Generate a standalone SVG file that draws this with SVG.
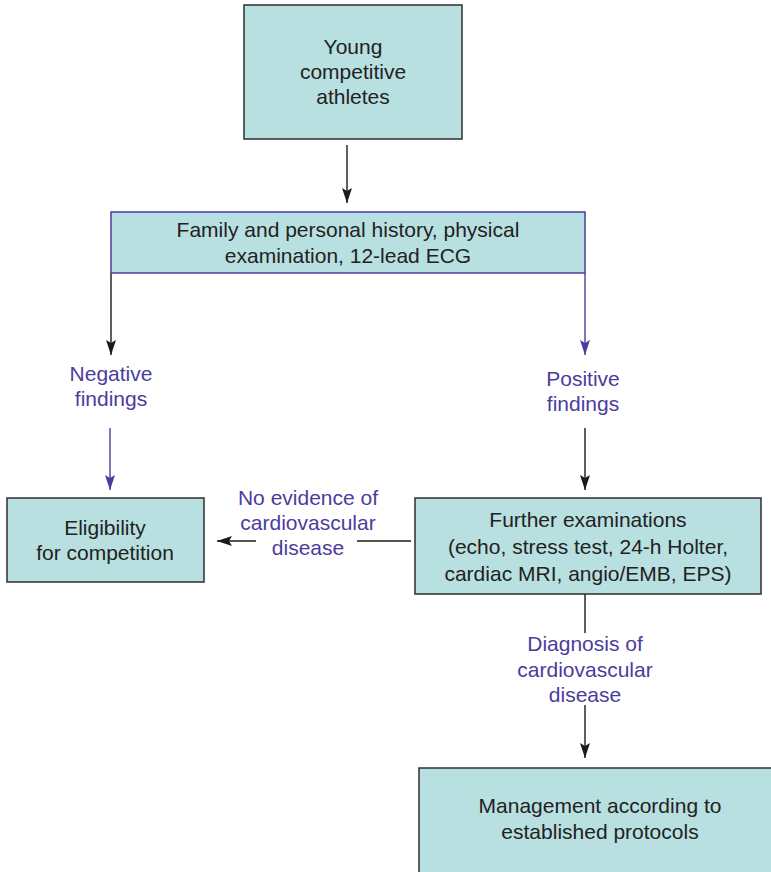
<svg xmlns="http://www.w3.org/2000/svg" width="771" height="872" viewBox="0 0 771 872">
  <style>
    .box { fill: #b8e0e0; stroke: #2e2e2e; stroke-width: 1.5; }
    .box-blue { fill: #b8e0e0; stroke: #4a3d9e; stroke-width: 1.5; }
    .t { font-family: "Liberation Sans", Arial, sans-serif; font-size: 21px; fill: #222222; text-anchor: middle; }
    .lbl { font-family: "Liberation Sans", Arial, sans-serif; font-size: 21px; fill: #4a3d9e; text-anchor: middle; }
    .ln { fill: none; stroke: #1a1a1a; stroke-width: 1.4; }
    .ln-blue { fill: none; stroke: #4a3d9e; stroke-width: 1.4; }
  </style>
  <defs>
    <marker id="ah" markerUnits="userSpaceOnUse" markerWidth="16" markerHeight="12" viewBox="0 0 16 12" refX="15" refY="6" orient="auto">
      <path d="M0,1 L15,6 L0,11 L3,6 Z" fill="#1a1a1a"/>
    </marker>
    <marker id="ah-blue" markerUnits="userSpaceOnUse" markerWidth="16" markerHeight="12" viewBox="0 0 16 12" refX="15" refY="6" orient="auto">
      <path d="M0,1 L15,6 L0,11 L3,6 Z" fill="#4a3d9e"/>
    </marker>
  </defs>

  <g id="connectors">
    <path class="ln" d="M347,145 V203" marker-end="url(#ah)"/>
    <path class="ln" d="M111,273 V355" marker-end="url(#ah)"/>
    <path class="ln-blue" d="M585,273 V355" marker-end="url(#ah-blue)"/>
    <path class="ln-blue" d="M110,428 V490" marker-end="url(#ah-blue)"/>
    <path class="ln" d="M585,428 V490" marker-end="url(#ah)"/>
    <path class="ln" d="M411,541 H357"/>
    <path class="ln" d="M256,541 H217" marker-end="url(#ah)"/>
    <path class="ln" d="M585,594 V633"/>
    <path class="ln" d="M585,705 V758" marker-end="url(#ah)"/>
  </g>

  <g id="athletes">
    <rect class="box" x="244" y="5" width="218" height="134"/>
    <text class="t" x="353" y="54">Young</text>
    <text class="t" x="353" y="79">competitive</text>
    <text class="t" x="353" y="104">athletes</text>
  </g>

  <g id="screening">
    <rect class="box-blue" x="111" y="212" width="474" height="61"/>
    <text class="t" x="348" y="237">Family and personal history, physical</text>
    <text class="t" x="348" y="263">examination, 12-lead ECG</text>
  </g>

  <g id="negative">
    <text class="lbl" x="111" y="381">Negative</text>
    <text class="lbl" x="111" y="406">findings</text>
  </g>

  <g id="positive">
    <text class="lbl" x="583" y="386">Positive</text>
    <text class="lbl" x="583" y="411">findings</text>
  </g>

  <g id="eligibility">
    <rect class="box" x="7" y="498" width="197" height="84"/>
    <text class="t" x="105" y="535">Eligibility</text>
    <text class="t" x="105" y="560">for competition</text>
  </g>

  <g id="no-evidence">
    <text class="lbl" x="308" y="505">No evidence of</text>
    <text class="lbl" x="308" y="530">cardiovascular</text>
    <text class="lbl" x="308" y="555">disease</text>
  </g>

  <g id="further">
    <rect class="box" x="415" y="498" width="346" height="96"/>
    <text class="t" x="588" y="527">Further examinations</text>
    <text class="t" x="588" y="554">(echo, stress test, 24-h Holter,</text>
    <text class="t" x="588" y="581">cardiac MRI, angio/EMB, EPS)</text>
  </g>

  <g id="diagnosis">
    <text class="lbl" x="585" y="651">Diagnosis of</text>
    <text class="lbl" x="585" y="677">cardiovascular</text>
    <text class="lbl" x="585" y="702">disease</text>
  </g>

  <g id="management">
    <rect class="box" x="419" y="768" width="370" height="120"/>
    <text class="t" x="600" y="813">Management according to</text>
    <text class="t" x="600" y="839">established protocols</text>
  </g>
</svg>
